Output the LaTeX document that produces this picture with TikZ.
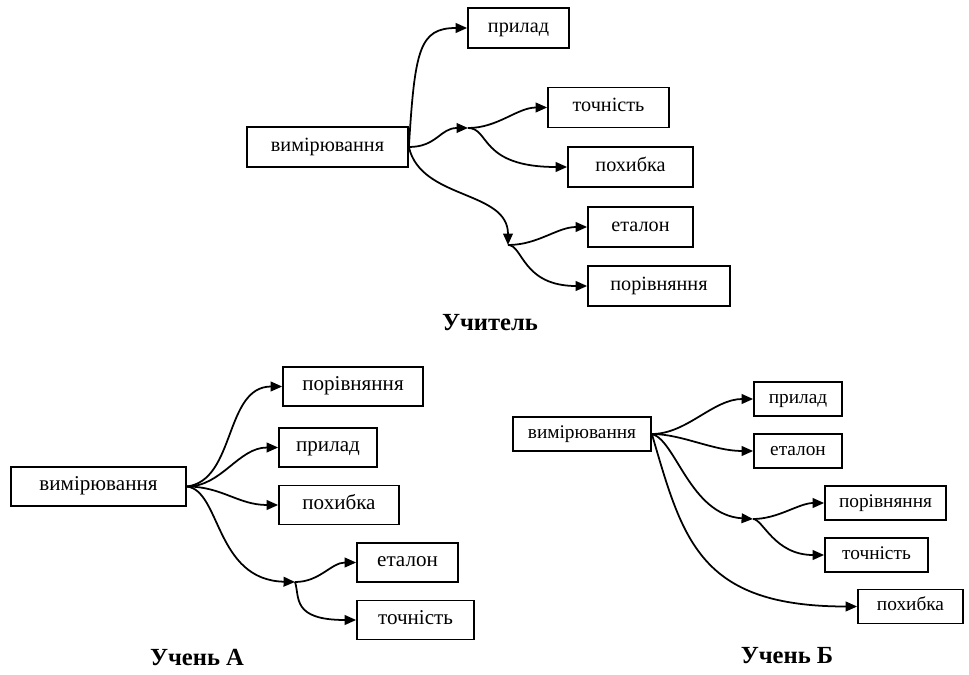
\documentclass[tikz,border=0pt]{standalone}
\usepackage{fontspec}
\setmainfont{Liberation Serif}
\usetikzlibrary{arrows.meta}

\begin{document}
\begin{tikzpicture}[x=0.02cm,y=-0.02cm,
    box/.style={draw,line width=1pt,inner sep=0pt,text height=1.2ex,text depth=0.2ex},
    link/.style={line width=1pt,-{Triangle[length=6.5pt,width=5.5pt]}},
    caption/.style={font=\bfseries\fontsize{14}{16}\selectfont}]
  \useasboundingbox (0,0) rectangle (969,675);

  % Учитель
  \begin{scope}[every node/.style={box,minimum height=0.8cm,font=\fontsize{11.5}{13}\selectfont}]
    \node[minimum width=3.22cm] (mT) at (327.5,147) {вимірювання};
    \node[minimum width=2.02cm] (pT) at (518.5,28) {прилад};
    \node[minimum width=2.42cm] (tT) at (608.5,107.5) {точність};
    \node[minimum width=2.5cm] (hT) at (630.5,167) {похибка};
    \node[minimum width=2.1cm] (eT) at (640.5,227) {еталон};
    \node[minimum width=2.84cm] (rT) at (659,286) {порівняння};
  \end{scope}
  \coordinate (jT1) at (468,128);
  \coordinate (jT2) at (508,245);
  \draw[link] (mT.east) .. controls +(6,-97) and +(-48,0) .. (pT.west);
  \draw[link] (mT.east) .. controls +(28,0) and +(-28,0) .. (jT1);
  \draw[link] (jT1) .. controls +(30,0) and +(-30,0) .. (tT.west);
  \draw[link] (jT1) .. controls +(22,0) and +(-88,0) .. (hT.west);
  \draw[link] (mT.east) .. controls +(12,53) and +(0,-55) .. (jT2);
  \draw[link] (jT2) .. controls +(30,0) and +(-30,0) .. (eT.west);
  \draw[link] (jT2) .. controls +(15,0) and +(-65,0) .. (rT.west);
  \node[caption] (capT) at (490,323) {Учитель};

  % Учень А
  \begin{scope}[every node/.style={box,minimum height=0.78cm,font=\fontsize{12}{14}\selectfont}]
    \node[minimum width=3.5cm] (mA) at (98.5,486.5) {вимірювання};
    \node[minimum width=2.8cm] (rA) at (353,386.5) {порівняння};
    \node[minimum width=1.96cm] (pA) at (328,447.5) {прилад};
    \node[minimum width=2.4cm] (hA) at (339,505) {похибка};
    \node[minimum width=2.02cm] (eA) at (407.5,562.5) {еталон};
    \node[minimum width=2.34cm] (tA) at (415.5,620) {точність};
  \end{scope}
  \coordinate (jA) at (295,582);
  \draw[link] (mA.east) .. controls +(49,-6) and +(-58,0) .. (rA.west);
  \draw[link] (mA.east) .. controls +(35,0) and +(-40,0) .. (pA.west);
  \draw[link] (mA.east) .. controls +(35,0) and +(-40,0) .. (hA.west);
  \draw[link] (mA.east) .. controls +(34,4) and +(-80,-2) .. (jA);
  \draw[link] (jA) .. controls +(25,0) and +(-25,0) .. (eA.west);
  \draw[link] (jA) .. controls +(5,15) and +(-65,0) .. (tA.west);
  \node[caption] (capA) at (197,657) {Учень А};

  % Учень Б
  \begin{scope}[every node/.style={box,minimum height=0.68cm,font=\fontsize{11}{13}\selectfont}]
    \node[minimum width=2.76cm] (mB) at (582,434) {вимірювання};
    \node[minimum width=1.76cm] (pB) at (798,399) {прилад};
    \node[minimum width=1.76cm] (eB) at (798,451) {еталон};
    \node[minimum width=2.42cm] (rB) at (885.5,503) {порівняння};
    \node[minimum width=2.06cm] (tB) at (876.5,555) {точність};
    \node[minimum width=2.1cm] (hB) at (910.5,606.5) {похибка};
  \end{scope}
  \coordinate (jB) at (753,519);
  \draw[link] (mB.east) .. controls +(35,0) and +(-40,0) .. (pB.west);
  \draw[link] (mB.east) .. controls +(30,0) and +(-40,0) .. (eB.west);
  \draw[link] (mB.east) .. controls +(24,6) and +(-63,-4) .. (jB);
  \draw[link] (jB) .. controls +(25,0) and +(-25,0) .. (rB.west);
  \draw[link] (jB) .. controls +(10,0) and +(-50,0) .. (tB.west);
  \draw[link] (mB.east) .. controls +(31,106) and +(-158,0) .. (hB.west);
  \node[caption] (capB) at (787,656) {Учень Б};
\end{tikzpicture}
\end{document}
